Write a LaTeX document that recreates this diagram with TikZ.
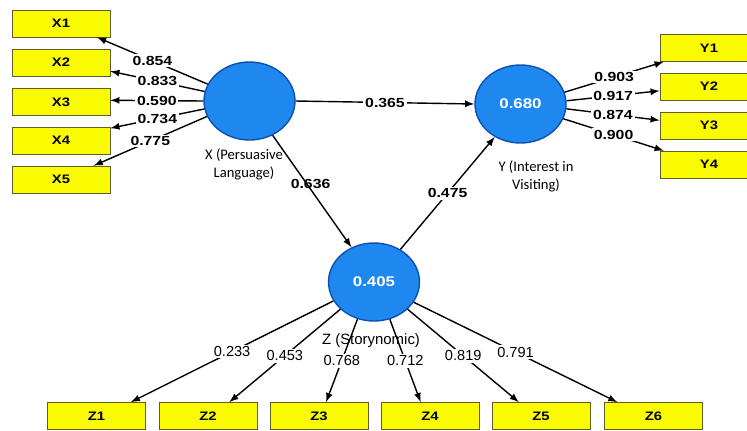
\documentclass[tikz,border=0pt]{standalone}
\usepackage{fontspec}
\setmainfont{Liberation Sans}
\newfontfamily\etire{Liberation Sans}[FakeStretch=1.2]
\newfontfamily\calibri{Carlito}
\usetikzlibrary{shapes.geometric,arrows}
\definecolor{jaune}{RGB}{250,250,0}
\definecolor{bordjaune}{RGB}{95,95,40}
\definecolor{bleu}{RGB}{30,136,240}
\definecolor{bordbleu}{RGB}{12,80,180}
\begin{document}
\begin{tikzpicture}[x=0.02cm,y=-0.02cm]
			\tikzstyle{fleche}=[->,>=latex,thick]
			\tikzstyle{indicateur}=[draw=bordjaune,fill=jaune,minimum width=1.96cm,minimum height=0.54cm,inner sep=0pt,font=\etire\bfseries\fontsize{7}{8}\selectfont]
			\tikzstyle{latente}=[ellipse,draw=bordbleu,fill=bleu,line width=0.8pt,minimum width=1.82cm,minimum height=1.56cm,inner sep=0pt,text=white,font=\etire\bfseries\fontsize{8}{10}\selectfont]
			\tikzstyle{etiquette}=[pos=0.5,fill=white,inner sep=1pt,font=\etire\bfseries\fontsize{7.5}{9}\selectfont]
			\tikzstyle{etiquettefine}=[etiquette,font=\fontsize{8.3}{9}\selectfont]
			\tikzstyle{nom}=[align=center,inner sep=0pt,font=\calibri\fontsize{8.3}{10.2}\selectfont]
			\def\ColonneX{61}
			\def\ColonneY{709}
			\def\LigneZ{416}
			\useasboundingbox (0,0) rectangle (747,430);
			% variables latentes
			\node[latente] (X) at (249.5,101) {};
			\node[latente] (Y) at (520.5,104) {0.680};
			\node[latente] (Z) at (374,282) {0.405};
			\node[nom] (nX) at (244,164) {X (Persuasive\\Language)};
			\node[nom] (nY) at (536,176) {Y (Interest in\\Visiting)};
			\node[inner sep=0pt,font=\fontsize{8.5}{10}\selectfont] (nZ) at (371,341) {Z (Storynomic)};
			% indicateurs
			\node[indicateur] (X1) at (\ColonneX,23.5) {X1};
			\node[indicateur] (X2) at (\ColonneX,62.5) {X2};
			\node[indicateur] (X3) at (\ColonneX,102) {X3};
			\node[indicateur] (X4) at (\ColonneX,140.5) {X4};
			\node[indicateur] (X5) at (\ColonneX,179.5) {X5};
			\node[indicateur] (Y1) at (\ColonneY,48) {Y1};
			\node[indicateur] (Y2) at (\ColonneY,86.5) {Y2};
			\node[indicateur] (Y3) at (\ColonneY,125.5) {Y3};
			\node[indicateur] (Y4) at (\ColonneY,164.5) {Y4};
			\node[indicateur] (Z1) at (96.5,\LigneZ) {Z1};
			\node[indicateur] (Z2) at (208,\LigneZ) {Z2};
			\node[indicateur] (Z3) at (319,\LigneZ) {Z3};
			\node[indicateur] (Z4) at (430,\LigneZ) {Z4};
			\node[indicateur] (Z5) at (541,\LigneZ) {Z5};
			\node[indicateur] (Z6) at (653.5,\LigneZ) {Z6};
			% chemins
			\draw[fleche] (X.0)--(Y.180) node[etiquette] {0.365};
			\draw[fleche] (X.304)--(Z.123) node[etiquette,fill=none,pos=0.43,xshift=0.08cm] {0.636};
			\draw[fleche] (Z.51)--(Y.232) node[etiquette] {0.475};
			% charges
			\draw[fleche] (X.158)--(X1.339) node[etiquette] {0.854};
			\draw[fleche] (X.168)--(X2.-10) node[etiquette] {0.833};
			\draw[fleche] (X.180)--(X3.2) node[etiquette] {0.590};
			\draw[fleche] (X.190)--(X4.14) node[etiquette] {0.734};
			\draw[fleche] (X.200)--(X5.23) node[etiquette] {0.775};
			\draw[fleche] (Y.15)--(Y1.197) node[etiquette] {0.903};
			\draw[fleche] (Y.4)--(Y2.185) node[etiquette] {0.917};
			\draw[fleche] (Y.-6)--(Y3.174) node[etiquette] {0.874};
			\draw[fleche] (Y.-19)--(Y4.163) node[etiquette] {0.900};
			\draw[fleche] (Z.205)--(Z1.22) node[etiquettefine] {0.233};
			\draw[fleche] (Z.219)--(Z2.33) node[etiquettefine] {0.453};
			\draw[fleche] (Z.246)--(Z3.63) node[etiquettefine] {0.768};
			\draw[fleche] (Z.293)--(Z4.124) node[etiquettefine] {0.712};
			\draw[fleche] (Z.321)--(Z5.148) node[etiquettefine] {0.819};
			\draw[fleche] (Z.333)--(Z6.159) node[etiquettefine] {0.791};
		\end{tikzpicture}
\end{document}
